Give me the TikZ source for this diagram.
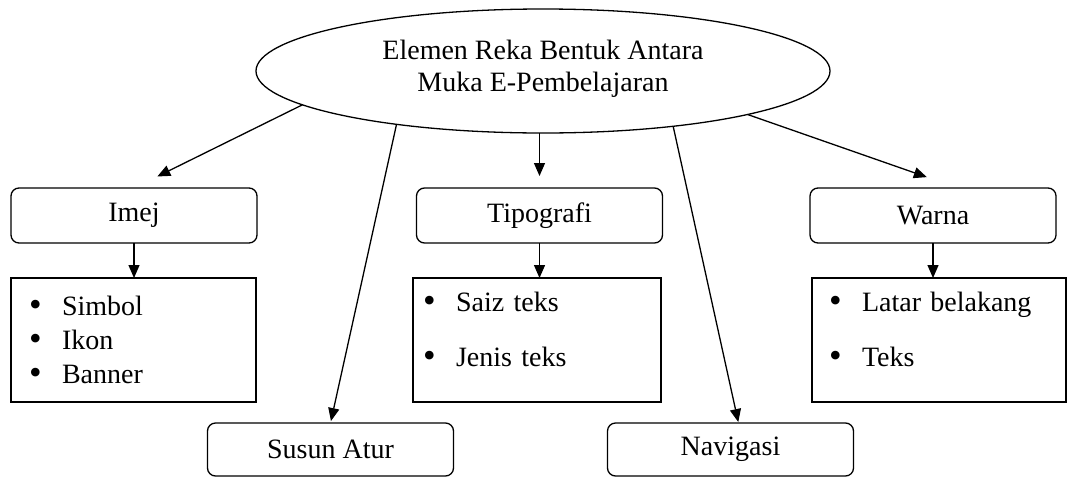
\documentclass[tikz,border=0pt]{standalone}
\usepackage{fontspec}
\setmainfont{Liberation Serif}
\usetikzlibrary{arrows.meta, shapes.geometric, positioning}
\tikzset{
	judul/.style = {ellipse, draw = black, line width = 1.3pt, minimum width = 574pt, minimum height = 124pt, align = center},
	elemen/.style = {rectangle, draw = black, rounded corners = 8pt, line width = 1.3pt, minimum width = 246pt, minimum height = 55pt, text centered},
	senarai/.style = {rectangle, draw = black, line width = 1.3pt, minimum height = 124pt, align = left},
	arrow/.style = {-{Triangle[length = 13pt, width = 11pt]}, draw = black, line width = 1.3pt}
}
\newcommand{\butir}[1]{\makebox[33pt][l]{\raisebox{-1pt}{\fontsize{36}{31}\selectfont\textbullet}}#1}

\begin{document}
\begin{tikzpicture}[
	x = 1pt, y = -1pt,
	inner sep = 0pt, outer sep = 0pt,
	font = \fontsize{28}{32}\selectfont
	]
	\useasboundingbox (0,0) rectangle (1067,477);

		% main node
		\node (judul) [judul] at (543,71) {Elemen Reka Bentuk Antara\\Muka E-Pembelajaran\rule[-10pt]{0pt}{0pt}};

		% element nodes
		\node (imej) [elemen] at (134,215.5) {Imej};
		\node (tipografi) [elemen] at (539.5,215.5) {Tipografi};
		\node (warna) [elemen] at (933,215.5) {Warna};
		\node (susun) [elemen, minimum height = 53pt] at (330.5,449.5) {Susun Atur};
		\node (navigasi) [elemen, minimum height = 53pt] at (730.5,449.5) {Navigasi};

		%% lists
		\node (imejlist) [senarai, text width = 209pt, inner xsep = 18pt] at (133.5,340) {\butir{Simbol}\\[2pt]\butir{Ikon}\\[2pt]\butir{Banner}};
		\node (tipografilist) [senarai, text width = 228pt, inner xsep = 10pt] at (537,340) {\butir{Saiz teks}\\[23pt]\butir{Jenis teks}\rule[-22pt]{0pt}{0pt}};
		\node (warnalist) [senarai, text width = 220pt, inner xsep = 17pt] at (939,340) {\butir{Latar belakang}\\[23pt]\butir{Teks}\rule[-22pt]{0pt}{0pt}};

		%%% arrows %%%
		\draw [arrow, shorten >= 26pt] (judul.188) -- (imej.north);
		\draw [arrow, shorten >= 12pt] (judul.south -| tipografi.north) -- (tipografi.north);
		\draw [arrow, shorten >= 33pt] (judul.348) -- ([xshift = 25pt]warna.north);
		\draw [arrow, shorten >= 2pt] (judul.200) -- (susun.north);
		\draw [arrow, shorten >= 1pt] (judul.337) -- ([xshift = 8pt]navigasi.north);

		\draw [arrow] (imej.south) -- (imej.south |- imejlist.north);
		\draw [arrow] (tipografi.south) -- (tipografi.south |- tipografilist.north);
		\draw [arrow] (warna.south) -- (warna.south |- warnalist.north);
	\end{tikzpicture}
\end{document}
